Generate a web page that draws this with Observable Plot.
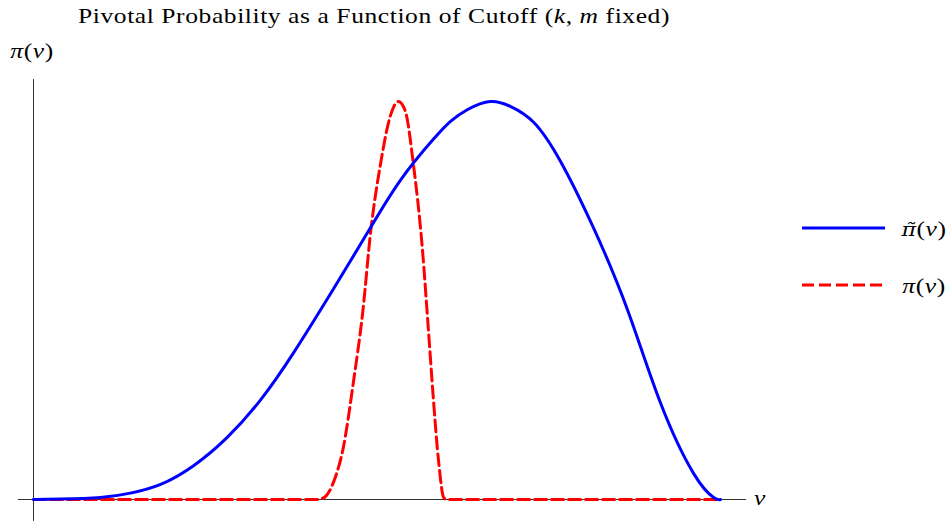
<!DOCTYPE html>
<html><head><meta charset="utf-8">
<script src="https://cdn.jsdelivr.net/npm/d3@7"></script>
<script src="https://cdn.jsdelivr.net/npm/@observablehq/plot@0.6"></script>
<style>
body{margin:0;background:#fff;}
#wrap{position:relative;width:951px;height:525px;font-family:"Liberation Serif",serif;overflow:hidden;}
.t{position:absolute;white-space:nowrap;font-size:22px;letter-spacing:0.5px;color:#000;line-height:1;transform:translate(-50%,-50%) scaleX(1.16);}
#wrap svg{position:absolute;left:0;top:0;}
.dj{font-family:"DejaVu Serif",serif;font-size:19px;}
</style></head><body><div id="wrap"></div>
<script>
// pi-tilde(v) (blue, solid)
const blueV = [0, 0.039, 0.0975, 0.141, 0.185, 0.233, 0.282, 0.330, 0.378, 0.437, 0.486, 0.534, 0.582, 0.607, 0.632, 0.665, 0.694, 0.728, 0.767, 0.815, 0.865, 0.913, 0.961, 0.990, 1];
const blueY = [0, 0.001, 0.005, 0.016, 0.038, 0.085, 0.156, 0.249, 0.367, 0.530, 0.670, 0.802, 0.905, 0.950, 0.980, 1.0, 0.988, 0.948, 0.850, 0.683, 0.475, 0.241, 0.065, 0.005, 0];
// pi(v) (red, dashed)
const redV = [0, 0.410, 0.421, 0.437, 0.451, 0.466, 0.479, 0.491, 0.505, 0.520, 0.531, 0.541, 0.553, 0.566, 0.575, 0.582, 0.590, 0.597, 0.601, 1];
const redY = [0, 0, 0.003, 0.045, 0.131, 0.299, 0.467, 0.676, 0.842, 0.967, 1.0, 0.977, 0.842, 0.631, 0.422, 0.254, 0.090, 0.005, 0, 0];

const blue = blueV.map((v, i) => ({v, y: blueY[i]}));
const red = redV.map((v, i) => ({v, y: redY[i]}));

const chart = Plot.plot({
  width: 951, height: 525,
  marginLeft: 33, marginRight: 231, marginTop: 101, marginBottom: 26,
  x: {domain: [0, 1], axis: null},
  y: {domain: [0, 1], axis: null},
  marks: [
    Plot.ruleY([0], {x1: -0.022, x2: 1.038, stroke: "#333", strokeWidth: 1}),
    Plot.ruleX([0], {y1: -0.055, y2: 1.055, stroke: "#333", strokeWidth: 1}),
    Plot.line(red, {x: "v", y: "y", stroke: "#ff0000", strokeWidth: 3, strokeDasharray: "12,5", curve: "monotone-x"}),
    Plot.line(blue, {x: "v", y: "y", stroke: "#0000ff", strokeWidth: 3, curve: "natural"})
  ]
});
const wrap = document.getElementById("wrap");
wrap.appendChild(chart);

function label(html, x, y) {
  const d = document.createElement("div");
  d.className = "t";
  d.style.left = x + "px"; d.style.top = y + "px";
  d.innerHTML = html;
  wrap.appendChild(d);
}
label('Pivotal Probability as a Function of Cutoff (<i>k</i>, <i>m</i> fixed)', 374, 16);
label('<i>π</i>(<i>v</i>)', 32, 51);
label('<i>v</i>', 760, 498);
label('<i class="dj">π\u0303</i>(<i>v</i>)', 924, 229);
label('<i>π</i>(<i>v</i>)', 924, 286);

// legend swatches
const ns = "http://www.w3.org/2000/svg";
const sw = document.createElementNS(ns, "svg");
sw.setAttribute("width", 951); sw.setAttribute("height", 525);
sw.style.pointerEvents = "none";
[["#0000ff", null, 228, 885], ["#ff0000", "12,5", 285, 883]].forEach(([c, dash, y, x2]) => {
  const l = document.createElementNS(ns, "line");
  l.setAttribute("x1", 802); l.setAttribute("x2", x2);
  l.setAttribute("y1", y); l.setAttribute("y2", y);
  l.setAttribute("stroke", c); l.setAttribute("stroke-width", 3);
  if (dash) l.setAttribute("stroke-dasharray", dash);
  sw.appendChild(l);
});
wrap.appendChild(sw);
</script></body></html>
